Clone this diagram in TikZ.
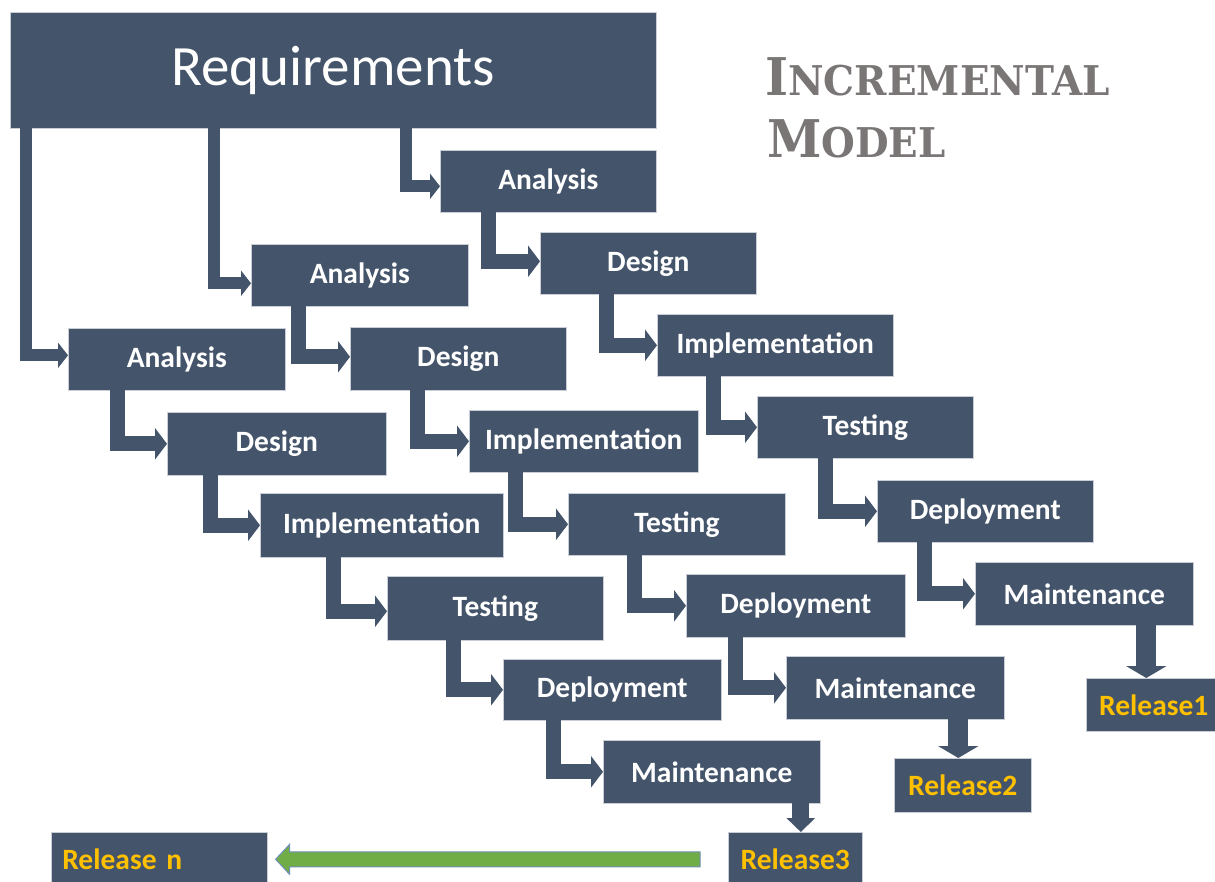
\documentclass[tikz,border=0pt]{standalone}
\usepackage{fontspec}
\setmainfont{Carlito}
\newfontfamily\titlefont{DejaVu Serif}
\usetikzlibrary{arrows.meta,calc}
\definecolor{slate}{HTML}{44546A}
\definecolor{edge}{HTML}{C9CED6}
\definecolor{relyellow}{HTML}{FFC000}
\definecolor{titlegray}{HTML}{7A7676}
\definecolor{arrowgreen}{HTML}{70AD47}
\definecolor{arrowedge}{HTML}{6F8FB8}
\tikzset{
  box/.style={fill=slate, draw=edge, line width=0.6pt, text=white, inner sep=0pt,
    anchor=north west, font=\fontsize{29.5}{31}\selectfont\bfseries},
  relbox/.style={box, text=relyellow},
  stepconn/.style={draw=slate, line width=15pt, line join=miter,
    -{Triangle[width=31pt,length=12pt]}},
  reqconn/.style={draw=slate, line width=12pt, line join=miter,
    -{Triangle[width=25pt,length=10pt]}},
  relconn/.style={draw=slate, line width=20pt,
    -{Triangle[width=40pt,length=12pt]}},
  relconnsmall/.style={draw=slate, line width=17pt,
    -{Triangle[width=28pt,length=14pt]}},
  garrow/.style={fill=arrowgreen, draw=arrowedge, line width=1pt, line join=miter},
  titletext/.style={anchor=base west, inner sep=0pt, text=titlegray},
}
\begin{document}
\begin{tikzpicture}[x=1pt,y=-1pt]
\useasboundingbox (0,0) rectangle (1215,881);
% title
\node[titletext] (title1) at (765,95)
  {\scalebox{0.95}[1]{\titlefont\bfseries\fontsize{52}{52}\selectfont I\fontsize{41}{41}\selectfont NCREMENTAL}};
\node[titletext] (title2) at (767,157)
  {\scalebox{0.945}[1]{\titlefont\bfseries\fontsize{52}{52}\selectfont M\fontsize{41}{41}\selectfont ODEL}};
% requirements
\node[box, minimum width=646, minimum height=116, font=\fontsize{57}{60}\selectfont] (req) at (10,12) {Requirements};
% column 3
\node[box, minimum width=216, minimum height=62] (a3) at (440,150) {Analysis};
\node[box, minimum width=216, minimum height=62] (d3) at (540,232) {Design};
\node[box, minimum width=236, minimum height=62] (i3) at (657,314) {Implementation};
\node[box, minimum width=216, minimum height=62] (t3) at (757,396) {Testing};
\node[box, minimum width=216, minimum height=62] (p3) at (877,480) {Deployment};
\node[box, minimum width=218, minimum height=63] (m3) at (975,562) {Maintenance};
\node[relbox, minimum width=135, minimum height=53] (r1) at (1086,678) {Release1};
% column 2
\node[box, minimum width=217, minimum height=62] (a2) at (251,244) {Analysis};
\node[box, minimum width=216, minimum height=63] (d2) at (350,327) {Design};
\node[box, minimum width=229, minimum height=62] (i2) at (469,410) {Implementation};
\node[box, minimum width=217, minimum height=62] (t2) at (568,493) {Testing};
\node[box, minimum width=219, minimum height=63] (p2) at (686,574) {Deployment};
\node[box, minimum width=218, minimum height=63] (m2) at (786,656) {Maintenance};
\node[relbox, minimum width=137, minimum height=54] (r2) at (894,758) {Release2};
% column 1
\node[box, minimum width=217, minimum height=62] (a1) at (68,328) {Analysis};
\node[box, minimum width=219, minimum height=63] (d1) at (167,412) {Design};
\node[box, minimum width=243, minimum height=64] (i1) at (260,493) {Implementation};
\node[box, minimum width=216, minimum height=64] (t1) at (387,576) {Testing};
\node[box, minimum width=218, minimum height=61] (p1) at (503,659) {Deployment};
\node[box, minimum width=217, minimum height=63] (m1) at (603,740) {Maintenance};
\node[relbox, minimum width=134, minimum height=54] (r3) at (728,832) {Release3};
\node[relbox, minimum height=54, text width=194pt, inner xsep=11pt, align=left] (rn) at (51,832) {Release n};
% connectors from requirements
\draw[reqconn] ([xshift=15.5,yshift=2]req.south west) |- ([yshift=4]a1.west);
\draw[reqconn] ([xshift=204,yshift=2]req.south west) |- ([yshift=-8]a2.west);
\draw[reqconn] ([xshift=395.5,yshift=2]req.south west) |- ([yshift=-5]a3.west);
% column 3 steps
\draw[stepconn] ([xshift=48,yshift=1]a3.south west) |- ([yshift=2]d3.west);
\draw[stepconn] ([xshift=66.5,yshift=1]d3.south west) |- (i3.west);
\draw[stepconn] ([xshift=56,yshift=1]i3.south west) |- (t3.west);
\draw[stepconn] ([xshift=68,yshift=1]t3.south west) |- (p3.west);
\draw[stepconn] ([xshift=47,yshift=1]p3.south west) |- (m3.west);
% column 2 steps
\draw[stepconn] ([xshift=47.5,yshift=1]a2.south west) |- ([yshift=2]d2.west);
\draw[stepconn] ([xshift=67,yshift=1]d2.south west) |- (i2.west);
\draw[stepconn] ([xshift=46.5,yshift=1]i2.south west) |- (t2.west);
\draw[stepconn] ([xshift=66.5,yshift=1]t2.south west) |- (p2.west);
\draw[stepconn] ([xshift=49.5,yshift=1]p2.south west) |- (m2.west);
% column 1 steps
\draw[stepconn] ([xshift=49,yshift=1]a1.south west) |- (d1.west);
\draw[stepconn] ([xshift=43.5,yshift=1]d1.south west) |- (i1.west);
\draw[stepconn] ([xshift=73.5,yshift=1]i1.south west) |- ([yshift=-3]t1.west);
\draw[stepconn] ([xshift=66,yshift=1]t1.south west) |- (p1.west);
\draw[stepconn] ([xshift=50,yshift=1]p1.south west) |- (m1.west);
% release arrows
\coordinate (r1t) at ([xshift=-7.5]r1.north);
\coordinate (r2t) at ([xshift=-4.5]r2.north);
\coordinate (r3t) at ([xshift=5.5]r3.north);
\draw[relconn] ([yshift=1]r1t |- m3.south) -- (r1t);
\draw[relconn] ([yshift=1]r2t |- m2.south) -- (r2t);
\draw[relconnsmall] ([yshift=1]r3t |- m1.south) -- (r3t);
% green arrow
\coordinate (gt) at ([xshift=8]rn.east);
\coordinate (gs) at ([xshift=-28]r3.west);
\draw[garrow] (gt) -- ++(14,-15) -- ++(0,7.5) -- ($(gs)+(0,-7.5)$) -- ($(gs)+(0,7.5)$)
  -- ($(gt)+(14,7.5)$) -- ++(0,7.5) -- cycle;
\end{tikzpicture}
\end{document}
